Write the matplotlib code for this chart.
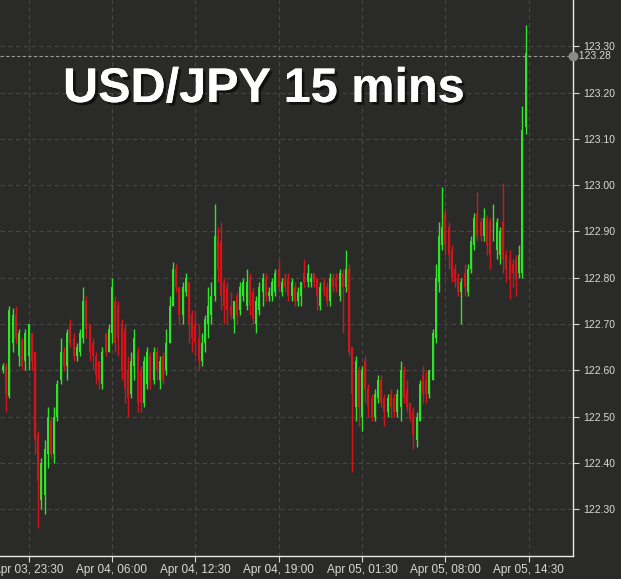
import matplotlib
matplotlib.use("Agg")
import matplotlib.pyplot as plt
import matplotlib.dates as mdates
import matplotlib.patheffects as pe
import numpy as np
import pandas as pd

# ---- data (USD/JPY 15-minute candles) ----
opens = [122.60,122.61,122.545,122.66,122.72,122.63,122.665,122.62,122.63,122.68,
         122.64,122.46,122.32,122.33,122.42,122.49,122.42,122.50,122.58,122.64,
         122.61,122.70,122.67,122.63,122.64,122.67,122.75,122.70,122.66,122.63,
         122.62,122.57,122.68,122.64,122.68,122.75,122.74,122.70,122.69,122.60,
         122.55,122.61,122.64,122.60,122.53,122.57,122.63,122.58,122.64,122.58,
         122.63,122.60,122.66,122.74,122.82,122.78,122.72,122.77,122.79,122.72,
         122.70,122.67,122.62,122.66,122.70,122.72,122.76,122.89,122.88,122.79,
         122.78,122.74,122.71,122.76,122.73,122.76,122.74,122.80,122.77,122.70,
         122.73,122.77,122.80,122.76,122.76,122.77,122.82,122.77,122.80,122.80,
         122.76,122.78,122.75,122.76,122.81,122.79,122.79,122.81,122.80,122.74,
         122.79,122.78,122.75,122.80,122.80,122.76,122.81,122.78,122.82,122.65,
         122.52,122.60,122.50,122.62,122.56,122.54,122.50,122.54,122.58,122.54,
         122.51,122.55,122.54,122.51,122.52,122.60,122.56,122.53,122.51,122.45,
         122.49,122.59,122.58,122.55,122.58,122.67,122.79,122.87,122.94,122.91,
         122.86,122.82,122.80,122.77,122.81,122.77,122.82,122.87,122.94,122.92,
         122.89,122.93,122.92,122.89,122.86,122.85,122.92,122.85,122.84,122.83,
         122.84,122.81,122.81,123.125]
highs = [122.615,122.615,122.74,122.735,122.74,122.69,122.67,122.69,122.70,122.68,
         122.64,122.47,122.41,122.45,122.52,122.50,122.52,122.58,122.67,122.65,
         122.69,122.71,122.68,122.66,122.69,122.78,122.76,122.70,122.67,122.64,
         122.62,122.65,122.68,122.70,122.80,122.76,122.75,122.71,122.70,122.63,
         122.64,122.69,122.65,122.61,122.63,122.65,122.64,122.65,122.65,122.63,
         122.64,122.69,122.76,122.834,122.83,122.78,122.79,122.81,122.79,122.73,
         122.73,122.70,122.68,122.72,122.78,122.79,122.96,122.91,122.92,122.80,
         122.79,122.77,122.75,122.77,122.79,122.80,122.82,122.81,122.78,122.76,
         122.79,122.81,122.81,122.78,122.80,122.82,122.84,122.80,122.81,122.81,
         122.80,122.79,122.78,122.79,122.84,122.83,122.81,122.81,122.80,122.79,
         122.80,122.79,122.81,122.81,122.81,122.82,122.82,122.86,122.83,122.65,
         122.63,122.61,122.61,122.63,122.57,122.55,122.56,122.59,122.59,122.55,
         122.55,122.56,122.55,122.56,122.62,122.61,122.58,122.53,122.52,122.51,
         122.58,122.61,122.60,122.60,122.69,122.83,122.92,122.995,122.95,122.92,
         122.87,122.83,122.81,122.80,122.83,122.83,122.89,122.94,122.985,122.93,
         122.95,122.935,122.93,122.96,122.93,122.91,123.005,122.86,122.86,122.84,
         122.85,122.87,123.17,123.345]
lows = [122.595,122.51,122.54,122.64,122.66,122.61,122.60,122.60,122.60,122.60,
        122.42,122.26,122.30,122.29,122.39,122.41,122.40,122.49,122.57,122.60,
        122.58,122.65,122.62,122.62,122.63,122.66,122.67,122.62,122.60,122.57,
        122.56,122.56,122.63,122.64,122.66,122.64,122.63,122.58,122.53,122.50,
        122.54,122.58,122.51,122.51,122.52,122.56,122.56,122.57,122.58,122.56,
        122.57,122.59,122.66,122.74,122.77,122.70,122.70,122.76,122.66,122.64,
        122.63,122.60,122.61,122.64,122.67,122.70,122.75,122.79,122.73,122.70,
        122.70,122.71,122.68,122.70,122.72,122.75,122.73,122.72,122.70,122.68,
        122.72,122.74,122.75,122.75,122.75,122.76,122.77,122.76,122.77,122.75,
        122.75,122.74,122.74,122.74,122.78,122.78,122.78,122.78,122.73,122.73,
        122.76,122.74,122.74,122.77,122.77,122.75,122.68,122.77,122.63,122.38,
        122.49,122.48,122.47,122.53,122.50,122.49,122.49,122.53,122.52,122.48,
        122.50,122.50,122.50,122.50,122.49,122.53,122.51,122.49,122.43,122.435,
        122.49,122.53,122.53,122.54,122.58,122.66,122.77,122.86,122.85,122.82,
        122.79,122.78,122.76,122.70,122.76,122.76,122.81,122.86,122.88,122.88,
        122.88,122.85,122.82,122.88,122.84,122.83,122.81,122.79,122.755,122.78,
        122.76,122.80,122.80,123.11]
closes = [122.61,122.55,122.73,122.72,122.67,122.68,122.61,122.68,122.70,122.62,
          122.45,122.36,122.40,122.43,122.50,122.42,122.50,122.57,122.64,122.61,
          122.68,122.66,122.63,122.65,122.68,122.75,122.69,122.64,122.63,122.59,
          122.58,122.64,122.64,122.69,122.78,122.66,122.67,122.60,122.56,122.54,
          122.62,122.67,122.53,122.53,122.62,122.64,122.58,122.64,122.60,122.62,
          122.58,122.66,122.74,122.82,122.78,122.72,122.78,122.80,122.70,122.67,
          122.66,122.62,122.66,122.71,122.74,122.76,122.89,122.82,122.76,122.74,
          122.73,122.72,122.75,122.72,122.78,122.79,122.79,122.74,122.71,122.75,
          122.78,122.80,122.76,122.77,122.79,122.81,122.78,122.79,122.78,122.76,
          122.79,122.75,122.77,122.79,122.79,122.81,122.80,122.79,122.76,122.78,
          122.77,122.75,122.80,122.78,122.78,122.81,122.78,122.82,122.64,122.55,
          122.62,122.52,122.60,122.56,122.52,122.50,122.55,122.58,122.53,122.51,
          122.54,122.52,122.51,122.55,122.60,122.54,122.52,122.50,122.46,122.50,
          122.57,122.55,122.55,122.60,122.68,122.80,122.89,122.91,122.87,122.85,
          122.80,122.79,122.77,122.79,122.78,122.82,122.88,122.93,122.89,122.89,
          122.93,122.87,122.85,122.94,122.92,122.90,122.84,122.82,122.80,122.81,
          122.80,122.85,123.12,123.285]

start_time = "2022-04-03 21:30"
last_price = 123.28
title = "USD/JPY 15 mins"
y_ticks = [122.30, 122.40, 122.50, 122.60, 122.70, 122.80, 122.90, 123.00, 123.10, 123.20, 123.30]
x_tick_times = ["2022-04-03 23:30", "2022-04-04 06:00", "2022-04-04 12:30", "2022-04-04 19:00",
                "2022-04-05 01:30", "2022-04-05 08:00", "2022-04-05 14:30"]

# ---- styling ----
BG = "#2a2b29"
GREEN = "#2fe32a"
RED = "#d3141a"
GRID = "#474846"
TXT = "#d8d8d8"

times = pd.date_range(start_time, periods=len(opens), freq="15min")
t = mdates.date2num(times.to_pydatetime())
o = np.array(opens); h = np.array(highs); l = np.array(lows); c = np.array(closes)
up = c >= o
colors = np.where(up, GREEN, RED)

fig = plt.figure(figsize=(6.21, 5.79), dpi=100, facecolor=BG)
ax = fig.add_axes([0.0, 23/579, 573/621, 556/579])
ax.set_facecolor(BG)

# grid
for yv in y_ticks:
    ax.axhline(yv, color=GRID, lw=0.8, ls=(0, (4, 3)), zorder=0)
xt = mdates.date2num(pd.to_datetime(x_tick_times).to_pydatetime())
for xv in xt:
    ax.axvline(xv, color=GRID, lw=0.8, ls=(0, (4, 3)), zorder=0)

# candles
bar_w = 15 / (24 * 60) * 0.62
ax.vlines(t, l, h, colors=colors, lw=1.0, zorder=2)
body_bottom = np.minimum(o, c)
body_h = np.maximum(np.abs(c - o), 0.003)
ax.bar(t, body_h, bottom=body_bottom, width=bar_w, color=colors, lw=0, zorder=3)

# current price line
ax.axhline(last_price, color="#9a9a9a", lw=0.8, ls=(0, (3, 2)), zorder=4)
ax.plot([1.0], [last_price], marker="o", ms=6, color="#8a8a8a",
        transform=ax.get_yaxis_transform(), clip_on=False, zorder=5)
ax.text(1.0, last_price, "  " + f"{last_price:.2f}", transform=ax.get_yaxis_transform(),
        color=TXT, fontsize=7.5, va="center", ha="left", family="Liberation Sans")

# limits
t_left = mdates.date2num(pd.Timestamp("2022-04-03 21:16").to_pydatetime())
t_right = mdates.date2num(pd.Timestamp("2022-04-05 17:57").to_pydatetime())
ax.set_xlim(t_left, t_right)
ax.set_ylim(122.199, 123.40)

# axes / ticks
for s in ["top", "left"]:
    ax.spines[s].set_visible(False)
for s in ["right", "bottom"]:
    ax.spines[s].set_color("#e8e8e8")
    ax.spines[s].set_linewidth(1.0)
ax.yaxis.tick_right()
ax.set_yticks(y_ticks)
ax.set_yticklabels([f"{v:.2f}" for v in y_ticks])
ax.set_xticks(xt)
ax.xaxis.set_major_formatter(mdates.DateFormatter("%b %d, %H:%M"))
ax.tick_params(axis="y", colors=TXT, labelsize=7.5, length=4, width=0.8, pad=3)
ax.tick_params(axis="x", colors=TXT, labelsize=8.5, length=4, width=0.8, pad=2)
for lab in ax.get_xticklabels() + ax.get_yticklabels():
    lab.set_family("Liberation Sans")
    lab.set_color(TXT)

# title
ax.text(63/573, 1 - 102/556, title, transform=ax.transAxes, color="white",
        fontsize=35, fontweight="bold", family="Liberation Sans", va="baseline", ha="left",
        zorder=6,
        path_effects=[pe.withSimplePatchShadow(offset=(2, -2), shadow_rgbFace="black", alpha=0.6),
                      pe.Normal()])

fig.savefig("out.png", dpi=100, facecolor=BG)
